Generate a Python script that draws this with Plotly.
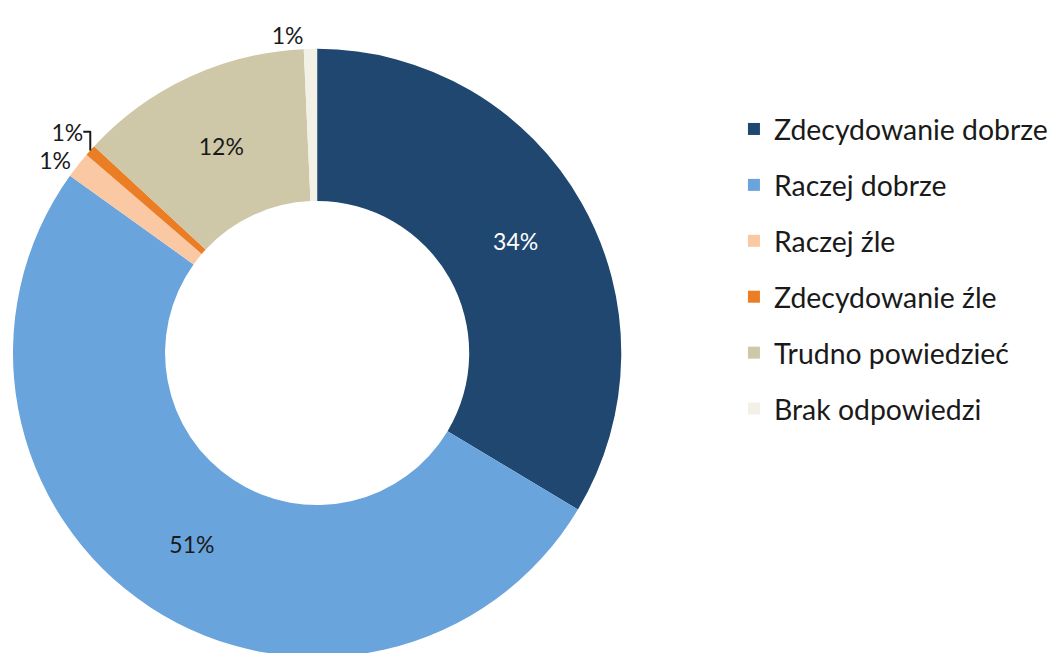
import plotly.graph_objects as go

labels = ["Zdecydowanie dobrze", "Raczej dobrze", "Raczej źle",
          "Zdecydowanie źle", "Trudno powiedzieć", "Brak odpowiedzi"]
values = [33.6, 51.3, 1.4, 0.6, 12.4, 0.7]
colors = ["#1F4770", "#69A4DC", "#FAC8A3", "#EB7E25", "#CEC8A8", "#F3F0E6"]
text_colors = ["#FFFFFF", "#1A1A1A", "#1A1A1A", "#1A1A1A", "#1A1A1A", "#1A1A1A"]
text_positions = ["inside", "inside", "outside", "outside", "inside", "outside"]

W, H = 1058, 658
FONT = "Lato, 'Open Sans', sans-serif"

fig = go.Figure()
fig.add_trace(go.Pie(
    labels=labels, values=values, sort=False, direction="clockwise", rotation=0,
    hole=0.5,
    marker=dict(colors=colors, line=dict(width=0)),
    texttemplate="%{percent:.0%}",
    textposition=text_positions,
    insidetextorientation="horizontal",
    textfont=dict(family=FONT, size=23, color=text_colors),
    outsidetextfont=dict(family=FONT, size=23, color="#1A1A1A"),
    domain=dict(x=[2 / W, 612 / W], y=[8 / H, 618 / H]),
    showlegend=False,
    hoverinfo="label+percent",
))

for i, (lab, col) in enumerate(zip(labels, colors)):
    fig.add_trace(go.Scatter(
        x=[None], y=[None], mode="markers", name=lab,
        marker=dict(symbol="square", size=17, color=col, line=dict(width=0)),
        legendgroup=f"g{i}", showlegend=True,
    ))

fig.update_layout(
    width=W, height=H,
    margin=dict(l=0, r=0, t=0, b=0),
    paper_bgcolor="white", plot_bgcolor="white",
    xaxis=dict(visible=False, domain=[0.99, 1]),
    yaxis=dict(visible=False),
    legend=dict(
        x=725 / W, y=1 - 96 / H, xanchor="left", yanchor="top",
        font=dict(family=FONT, size=28.4, color="#1A1A1A"),
        tracegroupgap=16, itemsizing="constant",
        bgcolor="rgba(0,0,0,0)",
    ),
)

fig.write_html("out.html")
